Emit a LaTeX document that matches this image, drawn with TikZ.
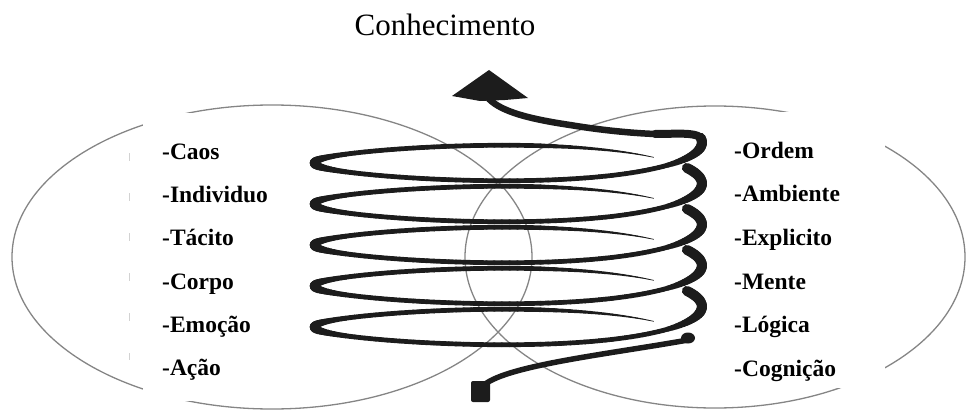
\documentclass[tikz,border=0pt]{standalone}
\usepackage{fontspec}
\setmainfont{Liberation Serif}
\definecolor{ellgray}{HTML}{858585}
\definecolor{coilblack}{HTML}{1C1C1C}
\begin{document}
\begin{tikzpicture}[x=1pt,y=-1pt,
  declare function={
    hx(\x)=508-194*cos((\x) r);
    hy(\x,\y)=(\y)-41*(\x)/(2*pi)+22*sin((\x) r)+6*sin((\x) r)*(1-cos((\x) r));
    hw(\x)=((\x)>2.5)?(4.7+5.3*min(1,((\x)-2.5)/0.5)):(4.7+4*((cos((\x) r))^2)^8);
    tp(\x)=min(1,0.15+1.2*((\x)+2.42));
  },
  ell/.style={draw=ellgray,line width=1.3pt},
  maskbox/.style={fill=white,draw=none},
  coil/.style={draw=coilblack,line cap=round,line join=round},
  lab/.style={font=\bfseries\fontsize{23.5}{28}\selectfont,anchor=base west,inner sep=0pt},
  ttl/.style={font=\fontsize{31}{36}\selectfont,anchor=base,inner sep=0pt}]
\useasboundingbox (0,0) rectangle (966,412);

% ellipses
\draw[ell] (272,257) ellipse [x radius=260pt, y radius=152pt];
\draw[ell] (715,257) ellipse [x radius=250pt, y radius=151pt];
\draw[gray!35,line width=1pt,dash pattern=on 8pt off 32pt] (129,153) -- (129,360);

% white masks behind the labels
\fill[maskbox] (143,113) rectangle (300,401);
\fill[maskbox] (720,112) rectangle (885,388);

% coil: start
\fill[coilblack,rounded corners=2pt] (471,381) rectangle (490,402);
\draw[coil,line width=5.5pt] (482,387) .. controls (500,366) and (610,354) .. (688,340);
\fill[coilblack] (688,338) ellipse [x radius=7pt, y radius=5.5pt];

% coil loops
\foreach \L in {327,286,245,204}{
  \foreach \s in {-2.42,-2.38,...,3.50}{
    \pgfmathsetmacro\w{hw(\s)*tp(\s)}
    \draw[coil,line width=\w pt] ({hx(\s)},{hy(\s,\L)}) -- ({hx(\s+0.04)},{hy(\s+0.04,\L)});
  }
}
\foreach \s in {-2.42,-2.38,...,3.22}{
  \pgfmathsetmacro\w{hw(\s)*tp(\s)}
  \draw[coil,line width=\w pt] ({hx(\s)},{hy(\s,163)}) -- ({hx(\s+0.04)},{hy(\s+0.04,163)});
}
% top strand and arrow head
\coordinate (topc) at ({hx(3.26)},{hy(3.26,163)});
\coordinate (headbase) at (489,99);
\draw[coil,line width=8pt] (topc) .. controls (695,132) and (675,134) .. (655,134);
\draw[coil,line width=6.5pt] (655,134) .. controls (630,133) and (600,130) .. (570,125)
  .. controls (530,119) and (502,112) .. (headbase);
\fill[coilblack] (452,96) -- (489,70) -- (528,98) -- (505,100) -- (480,101) -- cycle;

% labels
\node[ttl] (title) at (445,36) {Conhecimento};
\node[lab] (l1) at (162,159.3) {-Caos};
\node[lab] (l2) at (162,202.6) {-Individuo};
\node[lab] (l3) at (162,245.9) {-Tácito};
\node[lab] (l4) at (162,289.2) {-Corpo};
\node[lab] (l5) at (162,332.5) {-Emoção};
\node[lab] (l6) at (162,375.8) {-Ação};
\node[lab] (r1) at (734,158.3) {-Ordem};
\node[lab] (r2) at (734,201.9) {-Ambiente};
\node[lab] (r3) at (734,245.5) {-Explicito};
\node[lab] (r4) at (734,289.1) {-Mente};
\node[lab] (r5) at (734,332.7) {-Lógica};
\node[lab] (r6) at (734,376.3) {-Cognição};
\end{tikzpicture}
\end{document}
